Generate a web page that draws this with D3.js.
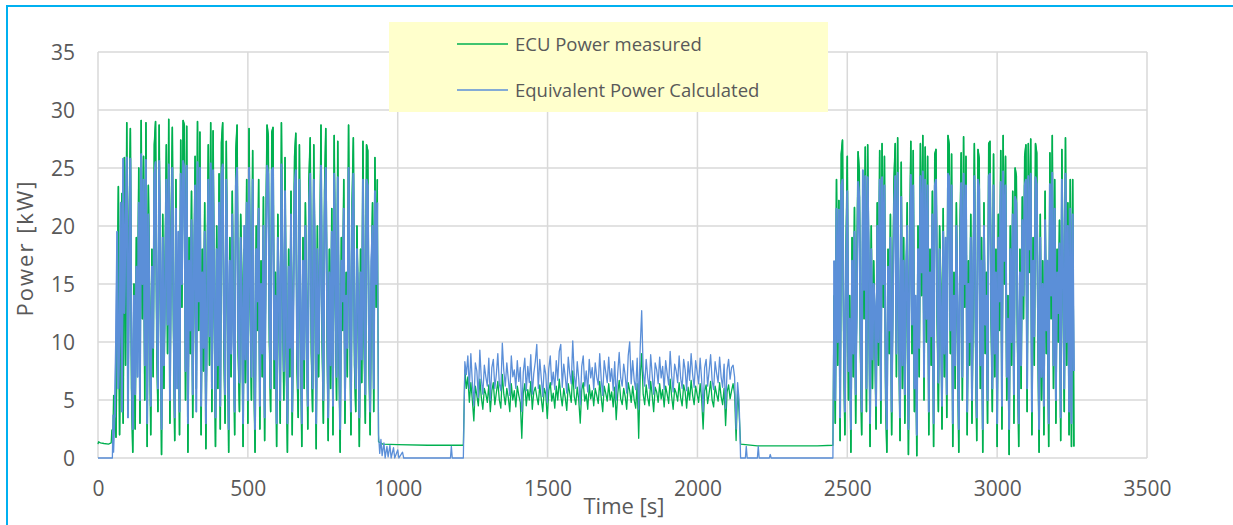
<!DOCTYPE html>
<html><head><meta charset="utf-8">
<script src="https://cdn.jsdelivr.net/npm/d3@7"></script>
<style>body{margin:0;background:#fff;overflow:hidden;} svg{display:block;}</style>
</head><body>
<svg id="chart" width="1233" height="525"></svg>
<script>
// ---------- DATA ----------
const xTicks = [0, 500, 1000, 1500, 2000, 2500, 3000, 3500];
const yTicks = [0, 5, 10, 15, 20, 25, 30, 35];
const seriesNames = ["ECU Power measured", "Equivalent Power Calculated"];

// idle / transition pieces as [time s, power kW]
const ecuIdle0 = [[0,1.2],[2,1.4],[8,1.3],[20,1.25],[35,1.2],[44,1.3],[46,2.4],[50,2.5],[52,5.4]];
const calcIdle0 = [[0,0],[48,0],[50,3.7],[52,0.5]];
const ecuIdle1 = [[936,1.4],[950,1.2],[1000,1.15],[1100,1.1],[1219,1.1]];
const calcIdle1 = [[936,2.0],[940,0.4],[944,1.6],[948,0.2],[954,1.3],[958,0],[964,1.0],[968,0.1],[974,1.1],[978,0],[986,0.9],[990,0],[1000,0.7],[1004,0],[1016,0.5],[1020,0],[1176,0],[1179,1.0],[1182,0],[1219,0]];
const ecuIdle2 = [[2144,1.2],[2200,1.05],[2300,1.05],[2400,1.05],[2452,1.1]];
const calcIdle2 = [[2144,0],[2160,0],[2163,1.0],[2166,0],[2200,0],[2203,1.0],[2206,0],[2240,0],[2243,0.3],[2246,0],[2452,0]];

// dense segment A: starts at 56 s, one sample every 4 s
const segAStart = 56, segAStep = 4;
const ecuSegA = [
5.3,1.8,12.0,23.4,2.0,16.0,22.8,3.0,25.9,8.0,
28.9,4.5,20.5,28.4,6.0,0.5,15.0,2.5,19.0,9.5,
25.0,3.0,29.1,12.0,26.0,5.0,28.9,1.0,23.5,14.0,
2.0,18.0,7.0,27.0,29.0,10.0,4.0,28.7,15.0,0.3,
21.0,6.0,16.5,27.0,9.0,29.2,3.0,20.0,28.5,11.0,
1.5,24.0,8.0,17.0,2.0,27.4,13.0,29.1,28.7,5.0,
28.6,0.5,19.0,9.0,23.0,3.5,14.0,26.0,6.0,29.0,
11.0,28.1,2.0,18.0,7.5,22.0,0.8,15.0,27.0,8.0,
28.9,4.0,28.2,12.0,1.0,20.0,6.0,24.5,2.5,27.2,
28.9,10.0,3.0,27.3,14.0,0.5,19.0,7.0,23.0,12.0,
2.0,26.5,28.7,9.0,4.0,21.0,15.5,1.0,18.0,6.5,
24.0,3.0,28.4,13.0,5.0,26.5,8.0,0.5,20.0,11.0,
24.0,2.5,17.0,7.0,22.5,1.5,19.0,28.7,27.8,10.0,
4.0,28.1,28.5,6.0,16.0,1.0,21.0,12.0,3.0,28.9,
14.0,5.0,25.9,9.0,0.5,18.0,7.0,23.0,2.0,15.0,
26.0,28.0,8.0,3.5,27.0,11.0,1.0,19.0,6.0,22.0,
13.0,2.5,24.0,27.6,9.0,4.0,27.0,15.0,0.8,20.0,
7.0,17.0,28.7,10.0,3.0,23.0,28.4,12.0,1.5,18.0,
6.0,21.5,2.0,27.8,14.0,5.0,27.3,9.0,0.5,19.0,
11.0,24.0,3.0,16.0,7.0,28.7,13.0,2.0,22.0,27.6,
8.0,4.0,20.0,12.0,1.0,18.0,6.5,27.3,10.0,3.0,
27.0,26.5,9.0,2.0,15.0,22.0,4.0,25.9,13.0,24.0];
const calcSegA = [
3.5,10.0,19.5,6.0,11.0,22.0,4.0,25.8,12.5,20.0,
25.9,3.5,18.0,25.8,9.0,2.5,14.0,5.5,16.5,7.0,
22.0,5.0,26.2,15.0,24.0,8.0,25.7,3.0,21.0,12.0,
4.5,16.5,9.5,24.5,25.5,13.0,6.0,25.6,17.5,2.5,
19.0,8.0,14.5,24.0,11.5,25.3,5.0,18.5,25.0,13.0,
3.5,21.5,6.0,19.5,4.0,24.5,15.0,25.6,25.0,7.5,
25.2,3.0,17.0,11.0,20.5,5.5,16.0,23.5,4.0,25.5,
13.5,25.0,4.5,16.0,9.5,19.5,3.0,13.0,24.0,10.5,
25.4,6.0,24.8,14.0,3.5,18.0,8.0,22.0,4.5,24.5,
25.3,12.5,5.5,24.0,16.5,2.5,17.0,9.0,21.0,10.0,
4.0,23.5,25.0,11.0,6.5,19.0,13.0,3.0,20.0,8.5,
22.0,5.0,25.0,15.5,7.0,24.0,10.5,2.5,18.0,13.5,
21.5,4.5,15.0,9.0,20.0,3.5,17.0,25.2,24.5,12.0,
6.0,24.8,25.0,8.5,14.0,3.0,19.0,14.5,5.0,25.3,
16.0,7.5,23.0,11.0,3.0,16.5,9.5,21.0,4.0,13.0,
23.5,24.8,10.0,6.0,24.0,13.0,3.0,17.0,8.5,20.0,
11.0,4.5,21.5,24.5,11.5,6.0,24.0,17.0,3.0,18.0,
9.0,15.0,25.2,12.5,5.0,21.0,25.0,14.0,3.5,16.0,
8.0,19.5,4.5,24.5,16.0,7.0,24.2,11.0,2.5,17.0,
13.5,21.5,5.0,14.0,9.5,25.0,15.0,4.0,20.0,24.5,
10.0,6.0,18.0,14.0,3.5,16.0,8.5,24.0,12.0,5.5,
24.0,23.5,11.0,4.0,17.0,20.0,6.0,23.0,15.0,22.0];

// dense segment B: starts at 1224 s, one sample every 5 s
const segBStart = 1224, segBStep = 5;
const ecuSegB = [
7.6,6.0,7.0,4.8,6.5,5.0,3.2,6.2,5.4,4.5,
6.8,5.2,4.2,6.0,5.5,4.8,6.3,4.0,5.8,6.5,
4.6,5.6,6.6,5.0,4.3,7.2,5.5,4.6,6.0,5.2,
4.0,6.4,5.0,5.8,4.4,6.2,5.4,4.8,1.7,5.6,
6.4,4.5,5.9,5.0,6.6,4.2,5.7,6.1,5.3,4.6,
6.3,5.1,4.0,6.0,5.5,3.4,5.8,6.5,4.9,5.6,
4.3,6.2,5.0,6.8,5.4,4.5,6.0,5.2,4.1,6.4,
5.6,4.8,7.5,5.3,4.6,6.1,5.0,3.0,5.9,6.5,
4.9,5.5,4.2,6.3,5.1,5.8,4.5,6.0,5.4,4.7,
6.6,5.2,4.0,6.2,5.6,4.9,6.4,5.0,5.7,4.4,
6.1,3.3,5.5,6.7,5.1,4.6,6.0,5.3,4.2,6.5,
5.8,4.8,6.2,5.0,4.3,6.4,1.7,7.0,9.0,5.5,
4.6,6.3,5.2,4.5,6.6,5.4,4.0,6.1,5.7,4.8,
6.4,5.1,5.9,4.4,6.2,5.5,4.7,6.8,5.3,4.2,
6.0,5.6,4.9,6.5,5.2,4.5,6.3,5.7,4.3,6.1,
5.0,6.7,5.4,4.6,6.2,5.5,4.8,6.4,5.1,2.5,
5.8,6.3,4.7,5.6,6.6,5.0,4.4,6.2,5.5,4.9,
6.5,5.3,4.6,6.0,2.8,5.7,6.3,5.1,5.8,6.4,
5.5,1.5,5.8,4.0];
const calcSegB = [
8.3,7.2,8.8,6.0,9.0,6.5,4.5,8.2,7.5,5.2,
9.3,6.8,5.5,8.0,7.0,6.2,8.6,5.0,7.8,8.5,
6.0,7.2,9.0,6.4,5.8,9.9,7.5,6.2,8.2,6.8,
5.4,8.8,7.0,7.6,6.0,8.4,6.6,7.8,4.0,7.4,
8.6,5.8,7.9,6.5,8.9,5.5,7.3,8.3,9.8,6.0,
8.5,6.9,5.3,8.0,7.2,4.8,7.7,8.8,6.3,7.4,
5.9,8.4,6.7,9.2,9.8,6.1,8.1,7.0,5.6,8.7,
7.3,6.4,10.1,7.1,6.0,8.3,6.8,4.6,7.9,8.8,
6.2,7.5,5.7,8.5,6.9,7.8,5.9,8.2,7.0,6.3,
9.0,6.8,5.4,8.4,7.4,6.5,8.7,6.6,7.7,5.8,
8.3,5.0,7.3,9.1,6.9,6.2,8.1,7.1,5.6,8.8,
10.0,6.4,8.4,6.7,5.9,8.6,4.2,9.5,12.7,7.5,
6.2,8.5,7.0,6.0,8.9,7.2,5.5,8.2,7.6,6.4,
8.7,6.9,7.9,5.9,8.4,7.3,6.3,9.2,7.1,5.7,
8.1,7.5,6.5,8.8,6.9,6.0,8.5,7.6,5.8,8.3,
6.7,9.0,7.2,6.1,8.4,7.4,6.4,8.6,6.8,4.0,
7.8,8.5,6.2,7.5,8.9,6.7,5.9,8.3,7.3,6.5,
8.7,7.0,6.1,8.1,4.3,7.6,8.5,6.8,7.8,8.0,
7.0,2.5,6.5,5.0];

// dense segment C: starts at 2456 s, one sample every 4 s
const segCStart = 2456, segCStep = 4;
const ecuSegC = [
14.0,3.0,24.0,8.0,22.2,1.5,26.2,27.4,10.0,2.0,
18.0,26.0,5.0,14.0,0.5,19.0,7.0,21.6,3.0,16.0,
26.4,24.7,9.0,2.0,23.0,12.0,26.8,4.0,27.0,15.0,
1.0,20.0,6.0,17.0,11.0,2.5,22.0,8.0,26.5,3.0,
27.1,13.0,26.0,5.0,0.5,18.0,9.0,21.0,2.0,15.0,
24.0,27.1,7.0,27.6,11.0,1.5,25.5,6.0,19.0,3.0,
14.0,22.0,0.3,17.0,27.3,9.0,26.5,4.0,12.0,0.2,
20.0,7.0,27.1,14.0,27.8,5.0,26.8,10.0,26.0,2.0,
18.0,8.0,23.0,1.0,26.2,26.6,12.0,4.0,20.0,15.0,
2.5,21.5,7.0,17.0,3.5,27.8,27.0,9.0,26.2,1.0,
16.0,6.0,22.0,11.0,0.5,19.0,26.3,5.0,27.7,13.0,
26.0,2.0,17.0,8.0,21.0,3.0,14.0,27.1,10.0,1.5,
26.6,25.8,6.0,19.0,0.5,22.0,9.0,16.0,3.0,27.1,
27.3,12.0,4.0,26.2,7.0,18.0,1.0,21.0,11.0,26.5,
2.5,27.8,15.0,26.0,5.0,14.0,0.3,20.0,8.0,23.0,
3.0,25.0,24.3,10.0,1.0,18.0,6.0,22.5,12.0,26.0,
27.0,4.0,27.1,16.0,27.5,2.0,19.0,8.0,27.1,26.3,
11.0,0.5,21.0,5.0,17.0,2.0,23.0,9.0,15.0,1.0,
26.3,12.0,27.8,6.0,24.0,3.0,18.0,10.0,20.5,1.5,
26.6,14.0,4.0,27.6,8.0,22.0,2.0,24.0,1.0,24.0,
1.0];
const calcSegC = [
17.0,5.0,21.5,10.0,21.4,3.5,23.5,24.0,12.5,4.0,
16.0,23.0,7.5,12.0,2.5,17.0,9.0,19.5,5.5,14.0,
23.8,22.5,11.0,4.0,24.8,14.5,24.3,6.0,24.2,17.0,
3.0,18.0,8.5,15.0,13.0,4.5,20.0,10.0,24.0,5.0,
24.2,15.0,23.5,7.0,2.5,16.5,11.0,19.0,4.0,13.0,
21.5,24.3,9.0,24.6,13.0,3.5,22.5,8.0,17.0,5.5,
16.0,20.0,2.5,15.0,24.4,11.5,23.5,6.0,14.0,2.0,
18.0,9.5,24.3,16.0,24.7,7.0,24.0,12.0,23.5,4.0,
16.0,10.5,21.0,3.0,23.5,24.0,14.0,6.5,18.0,13.0,
4.5,19.5,9.0,19.0,5.5,24.5,24.2,11.0,23.5,3.0,
14.0,8.0,20.0,13.0,2.5,17.0,23.7,7.0,24.5,15.0,
23.5,4.0,15.0,10.0,19.0,5.0,16.5,24.3,12.0,3.5,
24.0,23.2,8.0,17.0,2.5,20.0,11.5,14.0,5.0,24.3,
24.5,14.0,6.0,23.5,9.0,16.0,3.0,19.0,13.5,23.8,
4.5,24.7,17.0,23.5,7.0,12.0,2.5,18.0,10.0,21.0,
5.5,22.5,22.0,12.0,3.0,16.0,8.0,20.5,14.0,23.5,
24.0,6.0,24.3,18.0,24.5,4.0,17.0,10.5,24.2,23.6,
13.0,2.5,19.0,7.0,15.0,4.5,20.5,11.0,17.0,3.0,
23.6,14.0,24.6,8.0,21.5,5.0,16.0,12.5,18.5,3.5,
24.0,16.0,6.0,24.5,10.0,20.0,4.0,21.5,3.0,21.0,
7.5];

// ---------- BUILD ----------
function sampled(values, start, step) {
  return values.map((v, i) => [start + i * step, v]);
}
const ecuA = sampled(ecuSegA, segAStart, segAStep);
const ecuC = sampled(ecuSegC, segCStart, segCStep);
const calcA = sampled(calcSegA, segAStart, segAStep);
const calcC = sampled(calcSegC, segCStart, segCStep);
const ecuSeries = [].concat(
  ecuIdle0, ecuA, ecuIdle1, sampled(ecuSegB, segBStart, segBStep), ecuIdle2, ecuC);
const calcSeries = [].concat(
  calcIdle0, calcA, calcIdle1, sampled(calcSegB, segBStart, segBStep), calcIdle2, calcC);

// ---------- DRAW ----------
const svg = d3.select("#chart");
const plotL = 98, plotR = 1147, plotT = 52, plotB = 458;
const x = d3.scaleLinear().domain([0, 3500]).range([plotL, plotR]);
const y = d3.scaleLinear().domain([0, 35]).range([plotB, plotT]);
const textColor = "#595959";
const font = "'Open Sans', 'Noto Sans', sans-serif";
const green = "#00b050", blue = "#5b8fd8";

svg.append("rect").attr("width", 1233).attr("height", 525).attr("fill", "#fff");
// outer chart border (extends beyond view at right and bottom)
svg.append("rect").attr("x", 7).attr("y", 6).attr("width", 1260).attr("height", 560)
  .attr("fill", "none").attr("stroke", "#00b0f0").attr("stroke-width", 2);

const grid = svg.append("g").attr("stroke", "#d9d9d9").attr("stroke-width", 1.5);
grid.selectAll("line.h").data(yTicks).join("line").attr("class", "h")
  .attr("x1", plotL).attr("x2", plotR).attr("y1", d => y(d)).attr("y2", d => y(d));
grid.selectAll("line.v").data(xTicks).join("line").attr("class", "v")
  .attr("y1", plotT).attr("y2", plotB).attr("x1", d => x(d)).attr("x2", d => x(d));

// axes (labels only)
const xAxis = d3.axisBottom(x).tickValues(xTicks).tickSize(0).tickPadding(0).tickFormat(d3.format("d"));
const gx = svg.append("g").attr("transform", `translate(0,${plotB})`).call(xAxis);
gx.select(".domain").remove();
gx.selectAll("text").attr("dy", null).attr("y", 38).attr("fill", textColor)
  .style("font-family", font).style("font-size", "21px");

const yAxis = d3.axisLeft(y).tickValues(yTicks).tickSize(0).tickPadding(0);
const gy = svg.append("g").attr("transform", `translate(75,0)`).call(yAxis);
gy.select(".domain").remove();
gy.selectAll("text").attr("dy", "0.36em").attr("x", 0).attr("fill", textColor)
  .style("font-family", font).style("font-size", "21px");

// series lines: thin full traces, denser strokes over the high-load drive segments
const line = d3.line().x(d => x(d[0])).y(d => y(d[1]));
function trace(data, color, width) {
  svg.append("path").datum(data).attr("d", line)
    .attr("fill", "none").attr("stroke", color).attr("stroke-width", width).attr("stroke-linejoin", "round");
}
trace(ecuSeries, green, 1.3);
trace(ecuA, green, 1.6);
trace(ecuC, green, 1.6);
trace(calcSeries, blue, 1.3);
trace(calcA, blue, 1.9);
trace(calcC, blue, 1.9);

// axis titles
svg.append("text").attr("x", 624).attr("y", 514).attr("text-anchor", "middle")
  .attr("fill", textColor).style("font-family", font).style("font-size", "22px").text("Time [s]");
svg.append("text").attr("transform", "translate(33,248) rotate(-90)").attr("text-anchor", "middle")
  .attr("fill", textColor).style("font-family", font).style("font-size", "22px")
  .style("letter-spacing", "2px").text("Power [kW]");

// legend
const lg = svg.append("g");
lg.append("rect").attr("x", 389).attr("y", 22).attr("width", 439).attr("height", 90).attr("fill", "#ffffcc");
const legendColors = [green, blue];
const legendY = [44, 90];
seriesNames.forEach((name, i) => {
  lg.append("line").attr("x1", 457).attr("x2", 508).attr("y1", legendY[i]).attr("y2", legendY[i])
    .attr("stroke", legendColors[i]).attr("stroke-width", 1.3);
  lg.append("text").attr("x", 515).attr("y", legendY[i] + 6.5).attr("fill", textColor)
    .style("font-family", font).style("font-size", "18.5px").text(name);
});
</script>
</body></html>
